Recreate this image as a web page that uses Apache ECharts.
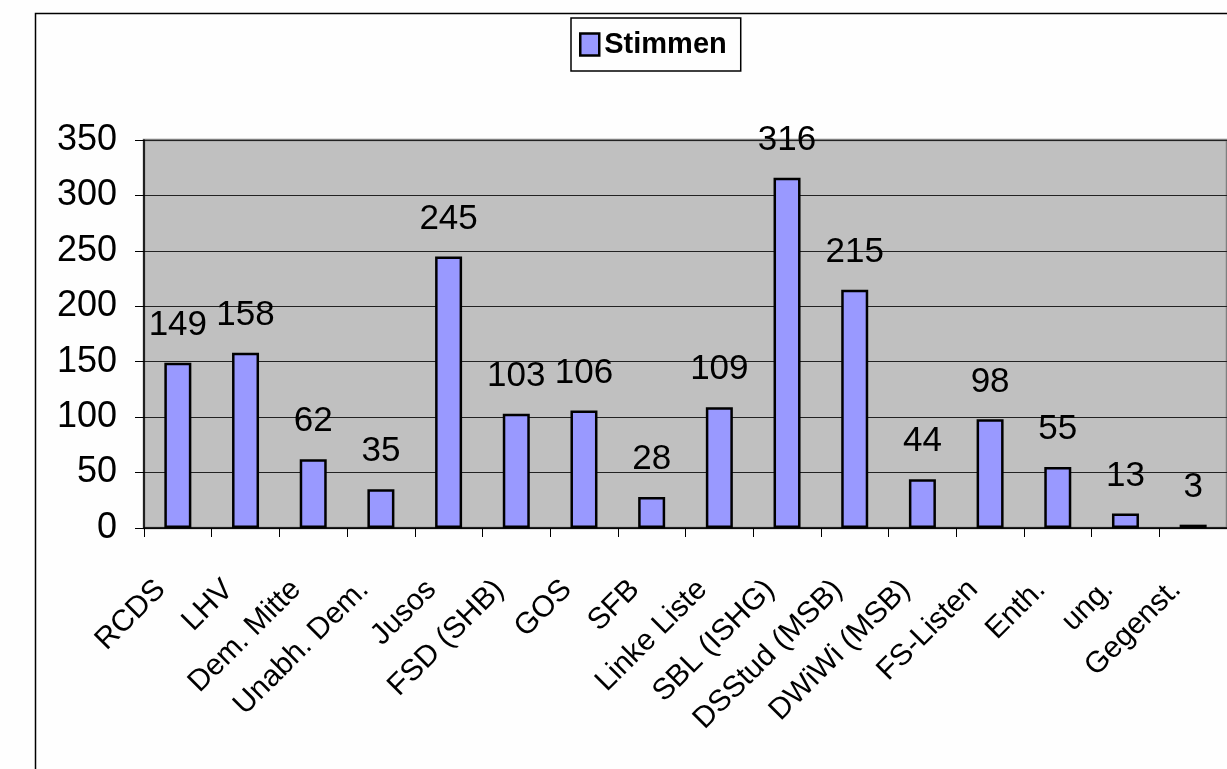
<!DOCTYPE html>
<html>
<head>
<meta charset="utf-8">
<script src="https://cdn.jsdelivr.net/npm/echarts@6/dist/echarts.min.js"></script>
<style>
html,body{margin:0;padding:0;background:#fefefe;}
#c{width:1227px;height:769px;}
</style>
</head>
<body>
<div id="c"></div>
<script>
const categories = ['RCDS','LHV','Dem. Mitte','Unabh. Dem.','Jusos','FSD (SHB)','GOS','SFB','Linke Liste','SBL (ISHG)','DSStud (MSB)','DWiWi (MSB)','FS-Listen','Enth.','ung.','Gegenst.'];
const stimmen = [149,158,62,35,245,103,106,28,109,316,215,44,98,55,13,3];
const yTicks = {min:0, max:350, interval:50};

const FONT = '"Liberation Sans", Arial, sans-serif';
const chart = echarts.init(document.getElementById('c'), null, {renderer:'canvas'});
chart.setOption({
  backgroundColor:'#fefefe',
  animation:false,
  graphic:[{
    type:'rect', left:33, top:11, shape:{x:0,y:0,width:1400,height:1000},
    style:{fill:'none', stroke:'#000', lineWidth:1.5}, z:-1
  }],
  legend:{
    left:571, top:18,
    padding:[12,14,12,8],
    borderColor:'#000', borderWidth:1.5, backgroundColor:'#fefefe',
    icon:'rect', itemWidth:19, itemHeight:22, itemGap:5,
    itemStyle:{borderColor:'#000', borderWidth:2.5},
    textStyle:{fontFamily:FONT, fontSize:29, fontWeight:'bold', color:'#000'}
  },
  grid:{
    left:144, top:140, width:1088, height:388,
    show:true, backgroundColor:'#c0c0c0', borderColor:'#808080', borderWidth:2.5
  },
  xAxis:{
    type:'category', data:categories,
    axisLine:{lineStyle:{color:'#000', width:1.5}},
    axisTick:{show:true, interval:0, length:9, lineStyle:{color:'#000', width:1}},
    axisLabel:{interval:0, rotate:45, margin:40, padding:[0,24,0,0],
      fontFamily:FONT, fontSize:30, color:'#000'}
  },
  yAxis:{
    type:'value', min:yTicks.min, max:yTicks.max, interval:yTicks.interval,
    axisLine:{show:true, lineStyle:{color:'#000', width:1.5}},
    axisTick:{show:true, length:9, lineStyle:{color:'#000', width:1}},
    axisLabel:{margin:27, fontFamily:FONT, fontSize:36, color:'#000'},
    splitLine:{show:true, lineStyle:{color:'#222', width:1.2}}
  },
  series:[{
    name:'Stimmen', type:'bar', data:stimmen, barWidth:27,
    itemStyle:{color:'#9999ff', borderColor:'#000', borderWidth:2.5},
    label:{show:true, position:'top', distance:20, fontFamily:FONT, fontSize:35, color:'#000'}
  }]
});
</script>
</body>
</html>
